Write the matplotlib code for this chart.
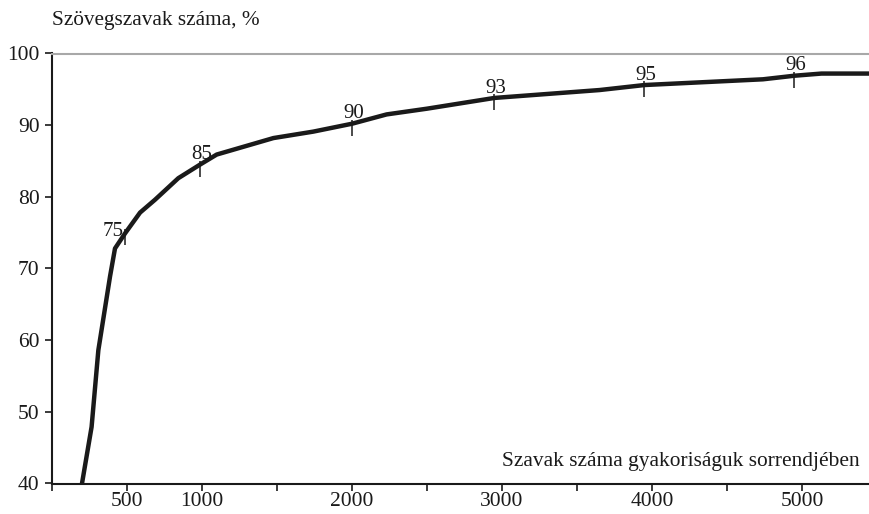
import numpy as np
import matplotlib
matplotlib.use("Agg")
import matplotlib.pyplot as plt
from matplotlib.path import Path

# Curve data: number of words (by frequency rank) vs. share of running text (%)
words = [200, 264, 309, 387, 420, 487, 587, 687, 842, 987, 1098, 1476, 1742,
         2000, 2231, 2500, 2950, 3650, 3950, 4740, 4950, 5130, 5450]
coverage = [40.0, 47.9, 58.6, 68.9, 72.8, 74.9, 77.8, 79.6, 82.6, 84.5, 85.9,
            88.2, 89.1, 90.2, 91.5, 92.3, 93.8, 94.9, 95.6, 96.4, 96.9, 97.2, 97.2]

# Marked points on the curve
mark_x = [487, 987, 2002, 2950, 3950, 4950]
mark_labels = ["75", "85", "90", "93", "95", "96"]

xtick_major = [500, 1000, 2000, 3000, 4000, 5000]
xtick_minor = [0, 1500, 2500, 3500, 4500]
ytick_vals = [40, 50, 60, 70, 80, 90, 100]

plt.rcParams['font.family'] = ['Liberation Serif', 'DejaVu Serif']

fig = plt.figure(figsize=(8.69, 5.14), dpi=100)
ax = fig.add_axes([52/869, 1-483.5/514, 1-52/869, (483.5-53.5)/514])

ax.plot(words, coverage, color='#1a1a1a', lw=3.2, solid_joinstyle='round',
        solid_capstyle='butt', clip_on=False, zorder=3)

tick_marker = Path([(0, 0.3), (0, -1.0)], [Path.MOVETO, Path.LINETO])
mark_y = np.interp(mark_x, words, coverage)
ax.plot(mark_x, mark_y, linestyle='none', marker=tick_marker, markersize=17,
        markeredgewidth=1.1, color='#1a1a1a', zorder=4)

for i, (mx, my, lab) in enumerate(zip(mark_x, mark_y, mark_labels)):
    if i == 0:
        ax.annotate(lab, (mx, my), xytext=(-1, 1), textcoords='offset points',
                    ha='right', va='center', fontsize=15, color='#1a1a1a')
    else:
        ax.annotate(lab, (mx, my), xytext=(1, 7), textcoords='offset points',
                    ha='center', va='center', fontsize=15, color='#1a1a1a')

ax.set_xlim(0, 5447)
ax.set_ylim(40, 100)

ax.set_xticks(xtick_major)
ax.set_xticklabels([str(v) for v in xtick_major])
ax.set_xticks(xtick_minor, minor=True)
ax.set_yticks(ytick_vals)
ax.set_yticklabels([str(v) for v in ytick_vals])

ax.tick_params(axis='both', which='both', direction='out', length=5, width=1.2,
               color='#1a1a1a', labelsize=15.5, labelcolor='#1a1a1a')
ax.tick_params(axis='x', which='major', pad=1)
ax.tick_params(axis='y', which='major', pad=4)

for s in ['left', 'bottom']:
    ax.spines[s].set_color('#1a1a1a')
    ax.spines[s].set_linewidth(1.5)
ax.spines['right'].set_visible(False)
ax.spines['top'].set_color('#a8a8a8')
ax.spines['top'].set_linewidth(1.5)

fig.text(52/869, 1-20/514, "Szövegszavak száma, %", ha='left', va='center',
         fontsize=15.3, color='#1a1a1a')
ax.text(0.988, 0.051, "Szavak száma gyakoriságuk sorrendjében",
        transform=ax.transAxes, ha='right', va='center', fontsize=15.4,
        color='#1a1a1a')

fig.savefig("out.png", dpi=100)
